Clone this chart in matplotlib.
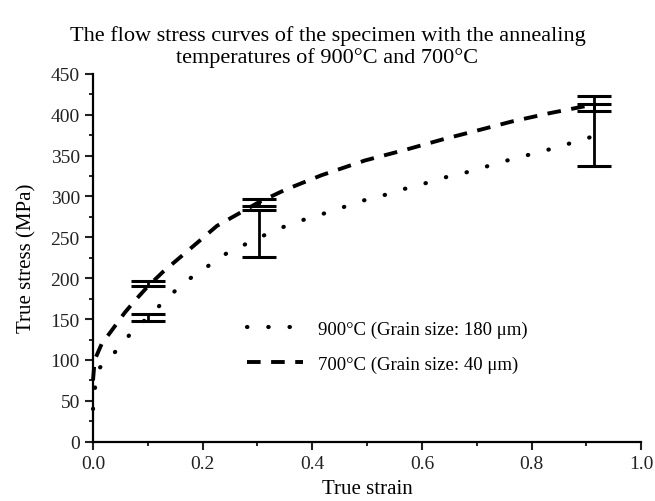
import matplotlib
matplotlib.use("Agg")
import matplotlib.pyplot as plt
from matplotlib.ticker import MultipleLocator

plt.rcParams['font.family'] = ['Liberation Serif', 'DejaVu Serif']

# 900 C curve (dotted)
strain_900 = [0.0, 0.005, 0.013, 0.042, 0.072, 0.1, 0.137, 0.171, 0.247, 0.286,
              0.323, 0.363, 0.401, 0.44, 0.487, 0.533, 0.572, 0.611, 0.651,
              0.691, 0.729, 0.766, 0.807, 0.846, 0.885, 0.91]
stress_900 = [40, 75, 91, 111, 135, 152, 177, 197, 232, 244,
              256, 267, 275, 283, 294, 302, 310, 317, 325,
              331, 339, 346, 353, 360, 368, 373]

# 700 C curve (dashed)
strain_700 = [0.0, 0.003, 0.016, 0.034, 0.058, 0.077, 0.1, 0.128, 0.2, 0.226,
              0.3, 0.35, 0.417, 0.496, 0.575, 0.639, 0.703, 0.766, 0.834, 0.91]
stress_700 = [75, 100, 120, 136, 158, 173, 190, 208, 249, 264,
              292, 308, 326, 344, 358, 370, 381, 392, 402, 412]

# error bars (low, high)
eb_x = [0.1, 0.302, 0.913]
eb_900_lo = [148, 226, 337]
eb_900_hi = [156, 283, 413]
eb_700_lo = [191, 288, 404]
eb_700_hi = [197, 297, 423]

fig = plt.figure(figsize=(6.55, 5.02), dpi=100)
ax = fig.add_axes([0.142, 0.118, 0.837, 0.733])

l1, = ax.plot(strain_900, stress_900, color='black', lw=3.0,
              linestyle=(0, (0.1, 5.0)), dash_capstyle='round',
              label='900°C (Grain size: 180 μm)')
l2, = ax.plot(strain_700, stress_700, color='black', lw=2.8,
              linestyle=(0, (3.5, 2.7)),
              label='700°C (Grain size: 40 μm)')

for lo, hi in [(eb_900_lo, eb_900_hi), (eb_700_lo, eb_700_hi)]:
    mid = [(a + b) / 2 for a, b in zip(lo, hi)]
    err = [(b - a) / 2 for a, b in zip(lo, hi)]
    ax.errorbar(eb_x, mid, yerr=err, fmt='none', ecolor='black',
                elinewidth=2.0, capsize=12, capthick=2.2)

ax.set_xlim(0, 1.0)
ax.set_ylim(0, 450)
ax.xaxis.set_major_locator(MultipleLocator(0.2))
ax.xaxis.set_minor_locator(MultipleLocator(0.1))
ax.yaxis.set_major_locator(MultipleLocator(50))
ax.yaxis.set_minor_locator(MultipleLocator(25))
ax.set_xticks([0, 0.2, 0.4, 0.6, 0.8, 1.0])
ax.set_xticklabels(['0.0', '0.2', '0.4', '0.6', '0.8', '1.0'])
ax.tick_params(which='major', direction='out', length=6, width=1.5,
               labelsize=14, colors='#222222')
ax.tick_params(which='minor', direction='out', length=3, width=1.2)
ax.spines['top'].set_visible(False)
ax.spines['right'].set_visible(False)
ax.spines['left'].set_linewidth(1.6)
ax.spines['bottom'].set_linewidth(1.6)
for ln in ax.lines:
    ln.set_clip_on(False)

ax.set_xlabel('True strain', fontsize=15, labelpad=5)
ax.set_ylabel('True stress (MPa)', fontsize=15, labelpad=10)
fig.suptitle('The flow stress curves of the specimen with the annealing\n'
             'temperatures of 900°C and 700°C', fontsize=16, y=0.948,
             linespacing=1.15)

ax.legend(handles=[l1, l2], loc='upper left', bbox_to_anchor=(0.25, 0.375),
          frameon=False, fontsize=13.5, handlelength=3.0, labelspacing=0.95,
          handletextpad=0.8)

fig.savefig('out.png', dpi=100)
